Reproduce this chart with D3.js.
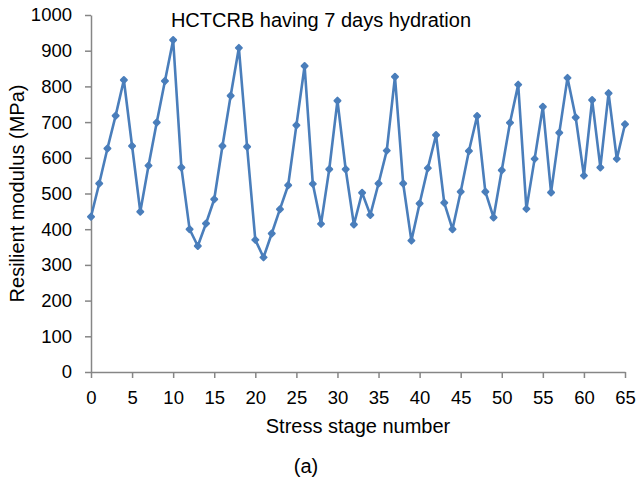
<!DOCTYPE html>
<html>
<head>
<meta charset="utf-8">
<script src="https://cdn.jsdelivr.net/npm/d3@7"></script>
<style>
  html, body { margin: 0; padding: 0; background: #fff; }
  svg { display: block; font-family: "Liberation Sans", Arial, sans-serif; }
</style>
</head>
<body>
<svg id="chart" width="637" height="482"></svg>
<script>
// Stress stage numbers 0..65 and the resilient modulus measured at each stage (MPa)
const stages = [
  0, 1, 2, 3, 4, 5, 6, 7, 8, 9, 10, 11, 12, 13, 14, 15, 16, 17, 18, 19, 20, 21,
  22, 23, 24, 25, 26, 27, 28, 29, 30, 31, 32, 33, 34, 35, 36, 37, 38, 39, 40, 41, 42, 43,
  44, 45, 46, 47, 48, 49, 50, 51, 52, 53, 54, 55, 56, 57, 58, 59, 60, 61, 62, 63, 64, 65
];
const modulus = [
  435, 528, 626, 718, 818, 633, 449, 578, 699, 815, 930, 573, 400, 353, 416, 484, 633, 774, 908, 631, 370, 321,
  388, 456, 523, 691, 857, 527, 415, 568, 760, 568, 413, 502, 440, 528, 620, 827, 528, 368, 472, 571, 664, 474,
  400, 505, 619, 717, 505, 433, 565, 698, 805, 457, 597, 743, 503, 670, 824, 713, 550, 762, 573, 781, 597, 694
];
const xTicks = [0, 5, 10, 15, 20, 25, 30, 35, 40, 45, 50, 55, 60, 65];
const yTicks = [0, 100, 200, 300, 400, 500, 600, 700, 800, 900, 1000];

const titleText = "HCTCRB having 7 days hydration";
const xLabel = "Stress stage number";
const yLabel = "Resilient modulus (MPa)";
const panelLabel = "(a)";

const points = stages.map((s, i) => ({ s, v: modulus[i] }));

const svg = d3.select("#chart");
const m = { left: 91, top: 15, right: 12, bottom: 110 };
const W = 637, H = 482;
const x = d3.scaleLinear().domain([0, 65]).range([m.left, W - m.right]);
const y = d3.scaleLinear().domain([0, 1000]).range([H - m.bottom, m.top]);

const axisColor = "#868686";
const lineColor = "#4a7ebb";

// Axes
const gx = svg.append("g")
  .attr("transform", `translate(0,${y(0)})`)
  .call(d3.axisBottom(x).tickValues(xTicks).tickFormat(d3.format("d"))
    .tickSizeInner(6).tickSizeOuter(0).tickPadding(13));
const gy = svg.append("g")
  .attr("transform", `translate(${x(0)},0)`)
  .call(d3.axisLeft(y).tickValues(yTicks).tickFormat(d3.format("d"))
    .tickSizeInner(6).tickSizeOuter(0).tickPadding(13));

[gx, gy].forEach(g => {
  g.select(".domain").attr("stroke", axisColor).attr("stroke-width", 1.5);
  g.selectAll(".tick line").attr("stroke", axisColor).attr("stroke-width", 1.5);
  g.selectAll(".tick text").attr("fill", "#000").style("font-size", "18.5px")
    .style("font-family", "'Liberation Sans', Arial, sans-serif");
});

// Series line
svg.append("path")
  .datum(points)
  .attr("fill", "none")
  .attr("stroke", lineColor)
  .attr("stroke-width", 2.6)
  .attr("stroke-linejoin", "round")
  .attr("d", d3.line().x(d => x(d.s)).y(d => y(d.v)));

// Diamond markers (square turned 45 degrees, rounded corners)
svg.append("g").selectAll("path")
  .data(points)
  .join("path")
  .attr("transform", d => `translate(${x(d.s)},${y(d.v)}) rotate(45)`)
  .attr("d", d3.symbol().type(d3.symbolSquare).size(18))
  .attr("fill", lineColor)
  .attr("stroke", lineColor)
  .attr("stroke-width", 2)
  .attr("stroke-linejoin", "round");

// Titles
svg.append("text")
  .attr("x", 321).attr("y", 27)
  .attr("text-anchor", "middle")
  .style("font-size", "20px")
  .text(titleText);

svg.append("text")
  .attr("x", 358).attr("y", 433)
  .attr("text-anchor", "middle")
  .style("font-size", "20px")
  .text(xLabel);

svg.append("text")
  .attr("transform", `translate(24,${(y(0) + y(1000)) / 2}) rotate(-90)`)
  .attr("text-anchor", "middle")
  .style("font-size", "20px")
  .text(yLabel);

svg.append("text")
  .attr("x", 306).attr("y", 473)
  .attr("text-anchor", "middle")
  .style("font-size", "20px")
  .text(panelLabel);
</script>
</body>
</html>
